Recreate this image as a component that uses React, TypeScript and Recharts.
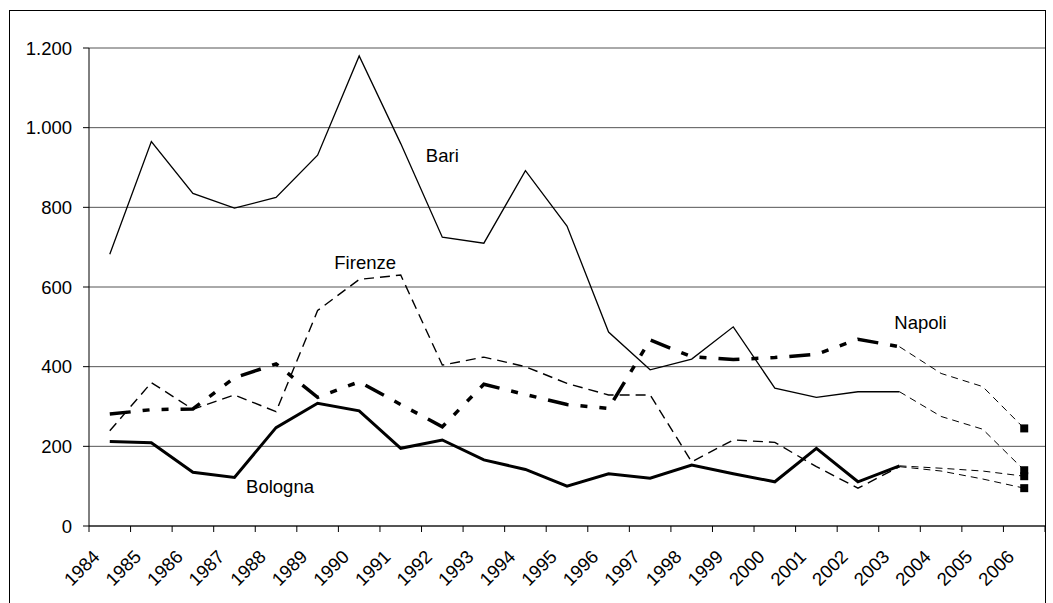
import React from 'react';
import { LineChart, Line, XAxis, YAxis, CartesianGrid, ReferenceDot } from 'recharts';

const years = [
  '1984', '1985', '1986', '1987', '1988', '1989', '1990', '1991', '1992', '1993', '1994', '1995',
  '1996', '1997', '1998', '1999', '2000', '2001', '2002', '2003', '2004', '2005', '2006',
];

// observed values 1984-2003
const bari = [682, 965, 835, 798, 825, 931, 1180, 960, 725, 710, 892, 753, 487, 392, 419, 500, 346, 323, 337, 337];
const firenze = [239, 360, 293, 329, 287, 541, 619, 630, 404, 424, 400, 358, 329, 329, 161, 216, 210, 149, 95, 149];
const bologna = [212, 209, 135, 122, 247, 308, 289, 195, 216, 166, 142, 100, 131, 120, 153, 131, 111, 195, 111, 151];
const napoli = [281, 292, 294, 372, 407, 323, 362, 305, 249, 356, 330, 305, 295, 467, 425, 418, 423, 431, 469, 450];

// projected values 2004-2006
const bariProj = [275, 243, 140];
const firenzeProj = [138, 118, 95];
const bolognaProj = [145, 138, 125];
const napoliProj = [383, 350, 245];

const yTicks = [0, 200, 400, 600, 800, 1000, 1200];

const W = 1053;
const H = 603;
const MARGIN = { top: 48, right: 8, bottom: 0, left: 0 };
const Y_AXIS_W = 89;
const X_AXIS_H = 77;
const PLOT_W = W - MARGIN.left - MARGIN.right - Y_AXIS_W;
const BAND = PLOT_W / years.length;

const FONT = "'Liberation Sans', Arial, sans-serif";
const FONT_SIZE = 18.5;

const series = { bari, firenze, bologna, napoli };
const projections = { bari: bariProj, firenze: firenzeProj, bologna: bolognaProj, napoli: napoliProj };

const data = years.map((year, i) => {
  const row: Record<string, string | number | null> = { year };
  (Object.keys(series) as (keyof typeof series)[]).forEach(k => {
    const obs = series[k];
    const proj = projections[k];
    row[k] = i < obs.length ? obs[i] : null;
    if (i === obs.length - 1) row[`${k}P`] = obs[i];
    else if (i >= obs.length) row[`${k}P`] = proj[i - obs.length];
    else row[`${k}P`] = null;
  });
  return row;
});

const formatThousands = (v: number) => String(v).replace(/\B(?=(\d{3})+(?!\d))/g, '.');

const YearTick = (props: any) => {
  const { x, y, payload } = props;
  const idx = payload?.index ?? props.index;
  const lx = x - 9;
  const ly = y + 32;
  return (
    <g>
      <line x1={x - BAND / 2} y1={y} x2={x - BAND / 2} y2={y + 6} stroke="#000" />
      {idx === years.length - 1 && (
        <line x1={x + BAND / 2} y1={y} x2={x + BAND / 2} y2={y + 6} stroke="#000" />
      )}
      <text
        x={lx}
        y={ly}
        transform={`rotate(-45, ${lx}, ${ly})`}
        textAnchor="end"
        fontSize={FONT_SIZE}
        fontFamily={FONT}
        fill="#000"
      >
        {payload.value}
      </text>
    </g>
  );
};

const EndMarker = (props: any) => {
  const { cx, cy, index } = props;
  if (index !== years.length - 1 || cx == null || cy == null) return <g key={`m-${index}`} />;
  return <rect key={`m-${index}`} x={cx - 4} y={cy - 4} width={8} height={8} fill="#000" />;
};

const cityLabel = (text: string, dx: number) => (p: any) => (
  <text
    x={p.cx + dx}
    y={p.cy}
    textAnchor="middle"
    dominantBaseline="central"
    fontSize={FONT_SIZE}
    fontFamily={FONT}
    fill="#000"
  >
    {text}
  </text>
);

export default function App() {
  return (
    <div style={{ position: 'fixed', left: 0, top: 0, width: W, height: H, background: '#fff' }}>
      <div
        style={{
          position: 'absolute', left: 9, top: 10, width: 1037, height: 600, boxSizing: 'border-box',
          borderTop: '1px solid #000', borderLeft: '1px solid #000', borderRight: '1px solid #000',
        }}
      />
      <div style={{ position: 'absolute', left: 0, top: 0 }}>
        <LineChart width={W} height={H} data={data} margin={MARGIN}>
          <CartesianGrid vertical={false} stroke="#555" />
          <XAxis
            dataKey="year"
            interval={0}
            height={X_AXIS_H}
            padding={{ left: BAND / 2, right: BAND / 2 }}
            tickSize={0}
            tickMargin={0}
            tickLine={false}
            axisLine={{ stroke: '#000' }}
            tick={<YearTick />}
          />
          <YAxis
            width={Y_AXIS_W}
            domain={[0, 1200]}
            ticks={yTicks}
            tickSize={6}
            tickMargin={11}
            tickFormatter={formatThousands}
            axisLine={{ stroke: '#000' }}
            tickLine={{ stroke: '#000' }}
            tick={{ fill: '#000', fontSize: FONT_SIZE, fontFamily: FONT }}
          />

          <Line dataKey="bariP" stroke="#000" strokeWidth={1} strokeDasharray="7 5" dot={EndMarker} isAnimationActive={false} />
          <Line dataKey="firenzeP" stroke="#000" strokeWidth={1} strokeDasharray="7 5" dot={EndMarker} isAnimationActive={false} />
          <Line dataKey="bolognaP" stroke="#000" strokeWidth={1} strokeDasharray="7 5" dot={EndMarker} isAnimationActive={false} />
          <Line dataKey="napoliP" stroke="#000" strokeWidth={1} strokeDasharray="7 5" dot={EndMarker} isAnimationActive={false} />

          <Line dataKey="firenze" stroke="#000" strokeWidth={1.4} strokeDasharray="10 6" dot={false} isAnimationActive={false} />
          <Line dataKey="napoli" stroke="#000" strokeWidth={3.5} strokeDasharray="21 12 7 12 7 12" dot={false} isAnimationActive={false} />
          <Line dataKey="bologna" stroke="#000" strokeWidth={3} dot={false} isAnimationActive={false} />
          <Line dataKey="bari" stroke="#000" strokeWidth={1.3} dot={false} isAnimationActive={false} />

          <ReferenceDot x="1992" y={931} r={0} shape={cityLabel('Bari', 0)} />
          <ReferenceDot x="1990" y={661} r={0} shape={cityLabel('Firenze', 6)} />
          <ReferenceDot x="1988" y={99} r={0} shape={cityLabel('Bologna', 4)} />
          <ReferenceDot x="2003" y={511} r={0} shape={cityLabel('Napoli', 21)} />
        </LineChart>
      </div>
    </div>
  );
}
